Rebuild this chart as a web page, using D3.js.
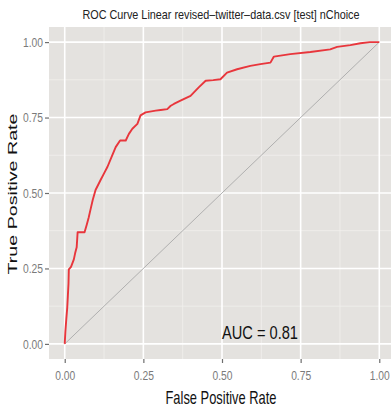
<!DOCTYPE html>
<html>
<head>
<meta charset="utf-8">
<script src="https://cdn.jsdelivr.net/npm/d3@7"></script>
<style>
body { margin: 0; background: #fff; }
text { font-family: "Liberation Sans", Arial, sans-serif; }
</style>
</head>
<body>
<script>
var width = 391, height = 410;

var title = "ROC Curve Linear revised\u2013twitter\u2013data.csv [test] nChoice";
var xLabel = "False Positive Rate";
var yLabel = "True Positive Rate";
var aucLabel = "AUC = 0.81";
var aucPos = [0.5, 0.02];

var majorTicks = [0, 0.25, 0.5, 0.75, 1];
var minorTicks = [0.125, 0.375, 0.625, 0.875];
var tickLabels = ["0.00", "0.25", "0.50", "0.75", "1.00"];

// roc curve
var fpr = [0, 0.002, 0.005, 0.008, 0.01, 0.012, 0.013, 0.02, 0.029, 0.033, 0.038, 0.041, 0.063, 0.07, 0.076,
    0.083, 0.089, 0.098, 0.114, 0.125, 0.136, 0.151, 0.162, 0.176, 0.194, 0.204, 0.215, 0.231, 0.241, 0.257,
    0.289, 0.305, 0.326, 0.337, 0.347, 0.368, 0.4, 0.426, 0.448, 0.472, 0.495, 0.516, 0.548, 0.59, 0.622,
    0.654, 0.665, 0.717, 0.781, 0.844, 0.866, 0.908, 0.94, 0.97, 1.0];
var tpr = [0, 0.04, 0.082, 0.12, 0.16, 0.2, 0.247, 0.255, 0.28, 0.30, 0.32, 0.37, 0.37, 0.395, 0.418,
    0.45, 0.477, 0.51, 0.543, 0.565, 0.587, 0.625, 0.652, 0.674, 0.674, 0.696, 0.713, 0.729, 0.757, 0.767,
    0.773, 0.775, 0.778, 0.789, 0.795, 0.806, 0.822, 0.85, 0.872, 0.874, 0.877, 0.899, 0.91, 0.921, 0.927,
    0.932, 0.952, 0.96, 0.967, 0.976, 0.984, 0.99, 0.996, 1.0, 1.0];

var panel = {left: 49, right: 395, top: 27, bottom: 359};

var svg = d3.select("body").append("svg")
    .attr("width", width)
    .attr("height", height);

var x = d3.scaleLinear().domain([-0.05, 1.05]).range([panel.left, panel.right]);
var y = d3.scaleLinear().domain([-0.05, 1.05]).range([panel.bottom, panel.top]);

// panel background
svg.append("rect")
    .attr("x", panel.left)
    .attr("y", panel.top)
    .attr("width", panel.right - panel.left)
    .attr("height", panel.bottom - panel.top)
    .attr("fill", "#E4E2DF");

var grid = svg.append("g");
grid.selectAll(".minx").data(minorTicks).enter().append("line")
    .attr("x1", function (d) { return x(d); })
    .attr("x2", function (d) { return x(d); })
    .attr("y1", panel.top).attr("y2", panel.bottom)
    .attr("stroke", "#F1F0EE").attr("stroke-width", 0.8);
grid.selectAll(".miny").data(minorTicks).enter().append("line")
    .attr("y1", function (d) { return y(d); })
    .attr("y2", function (d) { return y(d); })
    .attr("x1", panel.left).attr("x2", panel.right)
    .attr("stroke", "#F1F0EE").attr("stroke-width", 0.8);
grid.selectAll(".majx").data(majorTicks).enter().append("line")
    .attr("x1", function (d) { return x(d); })
    .attr("x2", function (d) { return x(d); })
    .attr("y1", panel.top).attr("y2", panel.bottom)
    .attr("stroke", "#FFFFFF").attr("stroke-width", 1.6);
grid.selectAll(".majy").data(majorTicks).enter().append("line")
    .attr("y1", function (d) { return y(d); })
    .attr("y2", function (d) { return y(d); })
    .attr("x1", panel.left).attr("x2", panel.right)
    .attr("stroke", "#FFFFFF").attr("stroke-width", 1.6);

// diagonal reference
svg.append("line")
    .attr("x1", x(0)).attr("y1", y(0))
    .attr("x2", x(1)).attr("y2", y(1))
    .attr("stroke", "#A9A9A9").attr("stroke-width", 0.9);

// roc curve
var pts = fpr.map(function (f, i) { return [f, tpr[i]]; });
svg.append("path")
    .datum(pts)
    .attr("fill", "none")
    .attr("stroke", "#E8363C")
    .attr("stroke-width", 1.9)
    .attr("stroke-linejoin", "round")
    .attr("d", d3.line()
        .x(function (d) { return x(d[0]); })
        .y(function (d) { return y(d[1]); }));

// axes
var xAxis = svg.append("g")
    .attr("transform", "translate(0," + panel.bottom + ")")
    .call(d3.axisBottom(x).tickValues(majorTicks).tickSize(4).tickPadding(6)
        .tickFormat(function (d, i) { return tickLabels[i]; }));
var yAxis = svg.append("g")
    .attr("transform", "translate(" + panel.left + ",0)")
    .call(d3.axisLeft(y).tickValues(majorTicks).tickSize(4).tickPadding(2)
        .tickFormat(function (d, i) { return tickLabels[i]; }));
[xAxis, yAxis].forEach(function (a) {
    a.select(".domain").remove();
    a.selectAll(".tick line").attr("stroke", "#6E6E6E").attr("stroke-width", 1.2);
    a.selectAll(".tick text")
        .attr("fill", "#7A7A7A")
        .attr("font-size", 12)
        .attr("textLength", 20)
        .attr("lengthAdjust", "spacingAndGlyphs");
});
xAxis.selectAll(".tick text").attr("y", 12).attr("dy", "0.71em");
yAxis.selectAll(".tick text").attr("dy", "0.36em");

// title
svg.append("text")
    .attr("x", 221).attr("y", 19)
    .attr("text-anchor", "middle")
    .attr("font-size", 13)
    .attr("textLength", 277)
    .attr("lengthAdjust", "spacingAndGlyphs")
    .attr("fill", "#222")
    .text(title);

// axis titles
svg.append("text")
    .attr("x", 221).attr("y", 404)
    .attr("text-anchor", "middle")
    .attr("font-size", 19)
    .attr("textLength", 111)
    .attr("lengthAdjust", "spacingAndGlyphs")
    .attr("fill", "#111")
    .text(xLabel);

svg.append("text")
    .attr("transform", "translate(17,194) scale(0.7,1) rotate(-90)")
    .attr("text-anchor", "middle")
    .attr("font-size", 19.5)
    .attr("textLength", 161)
    .attr("lengthAdjust", "spacingAndGlyphs")
    .attr("fill", "#111")
    .text(yLabel);

// auc annotation
svg.append("text")
    .attr("x", x(aucPos[0])).attr("y", 339)
    .attr("font-size", 18)
    .attr("textLength", 76)
    .attr("lengthAdjust", "spacingAndGlyphs")
    .attr("fill", "#111")
    .text(aucLabel);
</script>
</body>
</html>
